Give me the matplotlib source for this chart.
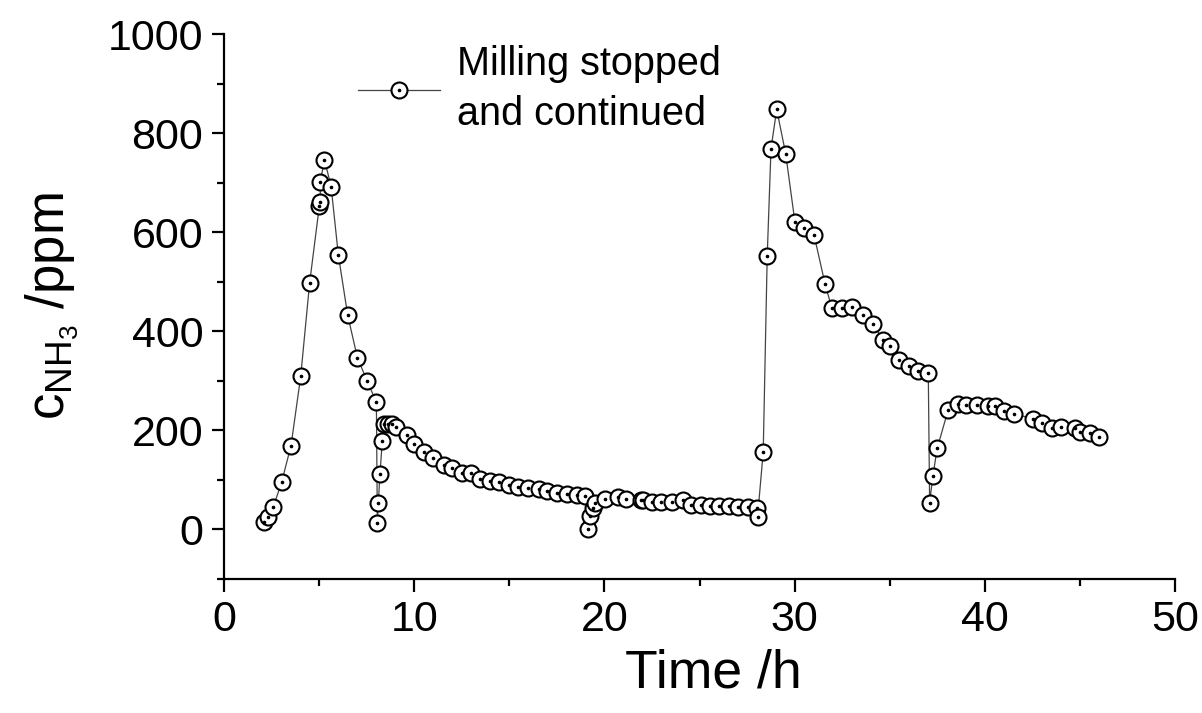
import matplotlib
matplotlib.use("Agg")
import matplotlib.pyplot as plt
from matplotlib.legend_handler import HandlerTuple
from matplotlib.ticker import MultipleLocator

plt.rcParams['font.family'] = ['Liberation Sans', 'DejaVu Sans']
plt.rcParams['mathtext.default'] = 'regular'

# Tempo (h) e concentracao de NH3 (ppm)
time_h = [2.12, 2.33, 2.59, 3.03, 3.52, 4.03, 4.50, 5.01, 5.06, 5.06, 5.28, 5.63,
          6.01, 6.50, 7.01, 7.52, 8.01, 8.06, 8.11, 8.20, 8.32, 8.43, 8.64, 8.81,
          9.03, 9.6, 10.0, 10.5, 11.0, 11.58, 12.0, 12.5, 12.99, 13.48, 13.98,
          14.47, 15.0, 15.47, 16.0, 16.54, 17.0, 17.49, 18.02, 18.54, 19.0, 19.12,
          19.24, 19.38, 19.5, 20.03, 20.73, 21.13, 21.95, 22.04, 22.5, 23.0, 23.54,
          24.15, 24.53, 25.1, 25.55, 26.03, 26.57, 27.0, 27.53, 28.0, 28.05, 28.35,
          28.56, 28.76, 29.06, 29.53, 30.02, 30.51, 31.02, 31.6, 31.95, 32.47,
          33.03, 33.58, 34.1, 34.66, 35.0, 35.5, 36.03, 36.5, 37.03, 37.1, 37.27,
          37.5, 38.08, 38.57, 38.99, 39.6, 40.18, 40.53, 41.0, 41.53, 42.55, 43.03,
          43.52, 44.0, 44.74, 45.0, 45.53, 46.02]
c_nh3 = [15, 25, 45, 96, 169, 309, 498, 653, 662, 701, 747, 692,
         554, 433, 347, 300, 257, 12, 54, 112, 179, 212, 212, 212,
         206, 190, 172, 157, 145, 131, 124, 114, 113, 101, 97,
         95, 89, 85, 84, 81, 77, 74, 72, 69, 67, 1,
         27, 44, 54, 62, 66, 62, 60, 59, 56, 56, 55,
         60, 50, 50, 48, 47, 47, 46, 46, 44, 25, 156,
         552, 769, 848, 759, 620, 608, 595, 496, 448, 448,
         450, 433, 415, 383, 371, 343, 331, 319, 315, 54, 108,
         164, 242, 254, 252, 252, 249, 249, 239, 234, 223, 214,
         205, 207, 205, 197, 194, 187]

fig = plt.figure(figsize=(12.02, 7.13), dpi=100)
ax = fig.add_axes([0.1864, 0.188, 0.7911, 0.764])

line, = ax.plot(time_h, c_nh3, color='#444444', lw=0.9, marker='o', ms=11.5,
                mfc='white', mec='black', mew=1.5)
dots, = ax.plot(time_h, c_nh3, ls='none', marker='o', ms=1.6, color='black')

ax.set_xlim(0, 50)
ax.set_ylim(-100, 1000)
ax.xaxis.set_major_locator(MultipleLocator(10))
ax.xaxis.set_minor_locator(MultipleLocator(5))
ax.yaxis.set_major_locator(MultipleLocator(200))
ax.yaxis.set_minor_locator(MultipleLocator(100))

for s in ['top', 'right']:
    ax.spines[s].set_visible(False)
for s in ['left', 'bottom']:
    ax.spines[s].set_linewidth(1.6)

ax.tick_params(which='major', length=9, width=1.6, labelsize=31, pad=6)
ax.tick_params(which='minor', length=5, width=1.6)

ax.set_xlabel('Time /h', fontsize=38.5)
ax.xaxis.set_label_coords(0.515, -0.128)
ax.set_ylabel(r'$c_{NH_3}$ /ppm', fontsize=38, labelpad=20)

leg = ax.legend([(line, dots)], ['Milling stopped\nand continued'],
                handler_map={tuple: HandlerTuple(ndivide=1, pad=0)},
                loc='upper left', bbox_to_anchor=(0.103, 1.045), frameon=False,
                fontsize=28.5, handlelength=2.07, handletextpad=0.45)
for t in leg.get_texts():
    t.set_linespacing(1.4)

fig.savefig('out.png', dpi=100)
